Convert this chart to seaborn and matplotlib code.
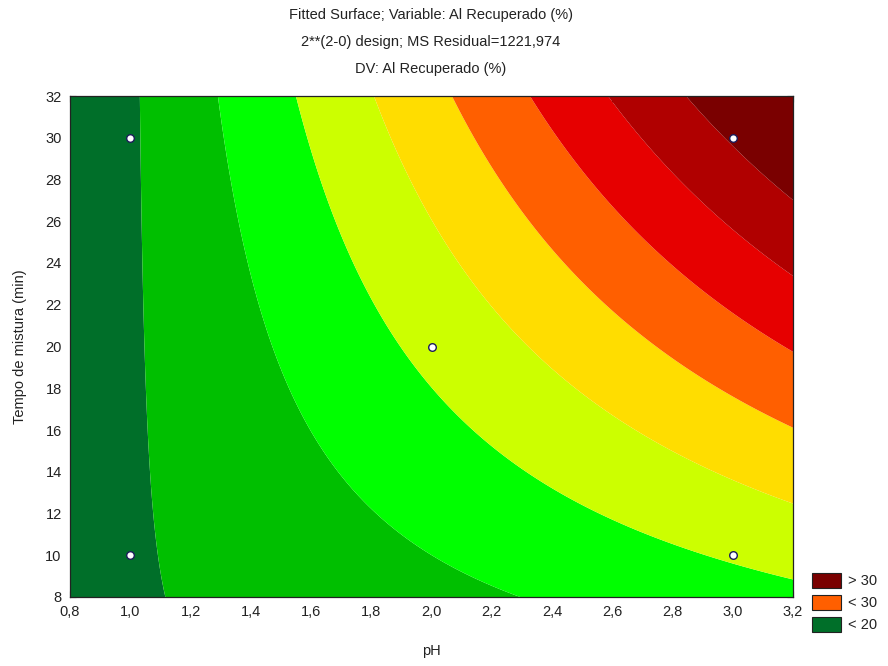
import numpy as np
import pandas as pd
import matplotlib
matplotlib.use("Agg")
import matplotlib.pyplot as plt
from matplotlib.patches import Patch
import seaborn as sns

ph_values = [1.0, 1.0, 2.0, 3.0, 3.0]
tempo_values = [10, 30, 20, 10, 30]
al_recuperado = [-5.5, -5.6, 6.2, 5.5, 30.5]

contour_levels = [-5, 0, 5, 10, 15, 20, 25, 30]
band_colors = ["#006F29", "#00BF00", "#00FF00", "#CCFF00", "#FFDD00",
               "#FF5F00", "#E60000", "#B00000", "#7A0000"]
legend_labels = ["> 30", "< 30", "< 20"]
legend_colors = ["#7A0000", "#FF5F00", "#006F29"]

x_ticks = [0.8, 1.0, 1.2, 1.4, 1.6, 1.8, 2.0, 2.2, 2.4, 2.6, 2.8, 3.0, 3.2]
y_ticks = [8, 10, 12, 14, 16, 18, 20, 22, 24, 26, 28, 30, 32]

title_lines = ["Fitted Surface; Variable: Al Recuperado (%)",
               "2**(2-0) design; MS Residual=1221,974",
               "DV: Al Recuperado (%)"]

df = pd.DataFrame({"pH": ph_values, "tempo": tempo_values, "al": al_recuperado})

# ---- fitted bilinear surface z = b0 + b1 x + b2 y + b12 x y ----
A = np.column_stack([np.ones(len(df)), df["pH"], df["tempo"], df["pH"] * df["tempo"]])
coef, *_ = np.linalg.lstsq(A, df["al"].to_numpy(), rcond=None)
gx = np.linspace(x_ticks[0], x_ticks[-1], 400)
gy = np.linspace(y_ticks[0], y_ticks[-1], 400)
GX, GY = np.meshgrid(gx, gy)
GZ = coef[0] + coef[1] * GX + coef[2] * GY + coef[3] * GX * GY

sns.set_style("ticks")
plt.rcParams["font.family"] = ["Liberation Sans", "DejaVu Sans"]
txt = "#222222"

fig = plt.figure(figsize=(8.88, 6.66), dpi=100)
ax = fig.add_axes([70 / 888, 1 - 597 / 666, (793 - 70) / 888, (597 - 96) / 666])

lev = [min(GZ.min(), contour_levels[0]) - 1] + contour_levels + [max(GZ.max(), contour_levels[-1]) + 1]
ax.contourf(GX, GY, GZ, levels=lev, colors=band_colors, antialiased=True)

sns.scatterplot(data=df, x="pH", y="tempo", ax=ax, marker="o", s=30,
                color="white", edgecolor="#1c1c5a", linewidth=1.0, zorder=5, legend=False)

ax.set_xlim(x_ticks[0], x_ticks[-1])
ax.set_ylim(y_ticks[0], y_ticks[-1])
ax.set_xticks(x_ticks)
ax.set_xticklabels([f"{v:.1f}".replace(".", ",") for v in x_ticks])
ax.set_yticks(y_ticks)
ax.set_yticklabels([str(v) for v in y_ticks])
ax.tick_params(direction="in", length=4, width=0.8, top=True, right=True,
               labelsize=10.5, colors="#222222", pad=6)
for s in ax.spines.values():
    s.set_linewidth(0.9)
    s.set_color("#222222")
ax.set_xlabel("pH", fontsize=10.5, color=txt, labelpad=18)
ax.set_ylabel("Tempo de mistura (min)", fontsize=10.5, color=txt, labelpad=13)

for i, line in enumerate(title_lines):
    fig.text(431 / 888, 1 - (15 + 27 * i) / 666, line, ha="center", va="center",
             fontsize=10.5, color=txt)

handles = [Patch(facecolor=c, edgecolor="#222222", linewidth=0.8) for c in legend_colors]
fig.legend(handles, legend_labels, loc="upper left",
           bbox_to_anchor=(812 / 888, 1 - 573 / 666), frameon=False, borderpad=0,
           borderaxespad=0, fontsize=10.5, handlelength=2.0, handleheight=1.2,
           labelspacing=0.45, handletextpad=0.45, labelcolor=txt)

fig.savefig("out.png", dpi=100)
